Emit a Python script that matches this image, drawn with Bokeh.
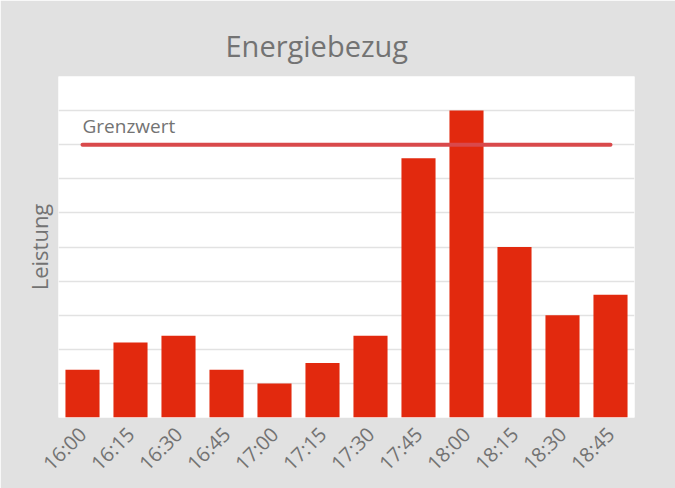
from bokeh.plotting import figure
from bokeh.models import ColumnDataSource, FactorRange, Range1d, FixedTicker, Title
from bokeh.embed import file_html
from bokeh.resources import INLINE
from bokeh.core.properties import value
import math

# ---- data ----
times = ["16:00", "16:15", "16:30", "16:45", "17:00", "17:15",
         "17:30", "17:45", "18:00", "18:15", "18:30", "18:45"]
leistung = [1.4, 2.2, 2.4, 1.4, 1.0, 1.6, 2.4, 7.6, 9.0, 5.0, 3.0, 3.6]
grenzwert = 8.0
grenz_label = "Grenzwert"
title_text = "Energiebezug"
y_label = "Leistung"
y_max = 10
y_ticks = list(range(0, 11))

FONT = "Open Sans"
GRAY_BG = "#e1e1e1"
TEXT = "#737373"
BAR = "#e2290e"
LINE = "#d9494b"

p = figure(x_range=FactorRange(*times), y_range=Range1d(0, y_max),
           width=675, height=488, output_backend="svg", toolbar_location=None,
           min_border_left=58, min_border_right=41, min_border_top=76,
           min_border_bottom=71)
p.title = None
p.background_fill_color = "white"
p.border_fill_color = GRAY_BG
p.outline_line_color = None

src = ColumnDataSource(dict(t=times, v=leistung))
p.vbar(x="t", top="v", width=0.71, source=src, fill_color=BAR, line_color=None)

# limit line from first to last category centre
p.segment(x0=[times[0]], x1=[times[-1]], y0=[grenzwert], y1=[grenzwert],
          line_color=LINE, line_width=4, line_cap="round")
p.text(x=[times[0]], y=[grenzwert], text=[grenz_label], text_font=value(FONT),
       text_font_size="19px", text_color=TEXT, text_baseline="bottom",
       text_align="left", x_offset=0, y_offset=-6)

# title
t = Title(text=title_text, align="left", offset=167, text_font=FONT,
          text_font_size="29px", text_font_style="normal", text_color=TEXT,
          standoff=24)
p.add_layout(t, "above")

# axes
p.yaxis.ticker = FixedTicker(ticks=[])
p.ygrid.ticker = FixedTicker(ticks=y_ticks)
p.yaxis.major_label_standoff = 0
p.yaxis.major_tick_line_color = None
p.yaxis.minor_tick_line_color = None
p.yaxis.axis_line_color = None
p.yaxis.axis_label = y_label
p.yaxis.axis_label_text_font = FONT
p.yaxis.axis_label_text_font_size = "22px"
p.yaxis.axis_label_text_font_style = "normal"
p.yaxis.axis_label_text_color = TEXT
p.yaxis.axis_label_standoff = 5

p.xaxis.axis_line_color = None
p.xaxis.major_tick_line_color = None
p.xaxis.minor_tick_line_color = None
p.xaxis.major_label_orientation = math.pi / 4
p.xaxis.major_label_text_font = FONT
p.xaxis.major_label_text_font_size = "20px"
p.xaxis.major_label_text_color = TEXT
p.xaxis.major_label_standoff = 7

p.xgrid.grid_line_color = None
p.ygrid.grid_line_color = "#e2e2e2"
p.ygrid.grid_line_width = 1.5
p.x_range.range_padding = 0

open("out.html", "w").write(file_html(p, INLINE))
